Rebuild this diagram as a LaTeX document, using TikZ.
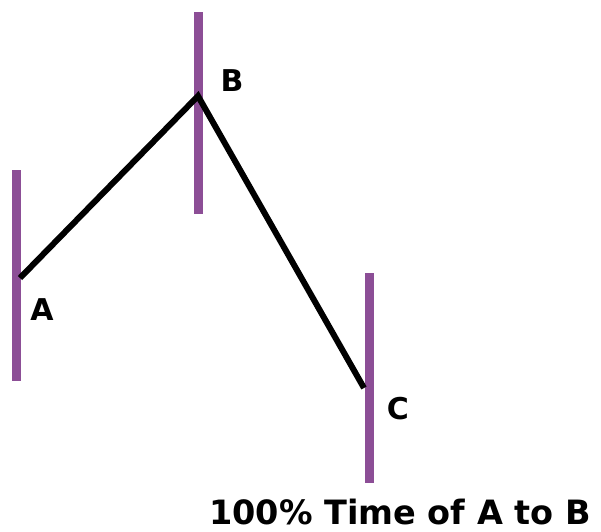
\documentclass[tikz,border=0pt]{standalone}
\usepackage{fontspec}
\setmainfont{DejaVu Sans}
\usetikzlibrary{positioning, calc}
\definecolor{barpurple}{RGB}{140,78,150}

\begin{document}
\begin{tikzpicture}[
    x=1pt, y=-1pt,
    % Define styles for bars, path and labels
    bar/.style={draw=barpurple, line width=9pt},
    swing/.style={draw=black, line width=6pt, line join=miter},
    pt_lbl/.style={font=\fontsize{30}{30}\selectfont\bfseries, inner sep=0pt},
    cap_lbl/.style={font=\fontsize{33.5}{33.5}\selectfont\bfseries, inner sep=0pt, text depth=0pt, anchor=base}
]
    \useasboundingbox (0,0) rectangle (601,531);

    % --- Vertical Bars ---
    \coordinate (aTop) at (16,170);
    \coordinate (aBot) at (16,381);
    \coordinate (bTop) at (198,12);
    \coordinate (bBot) at (198,214);
    \coordinate (cTop) at (369,273);
    \coordinate (cBot) at (369,483);
    \draw[bar] (aTop) -- (aBot);
    \draw[bar] (bTop) -- (bBot);
    \draw[bar] (cTop) -- (cBot);

    % --- Swing Points ---
    \coordinate (a) at (20,278);
    \coordinate (b) at (198,96);
    \coordinate (c) at (364,388);
    \draw[swing] (a) -- (b) -- (c);

    % --- Labels ---
    \node[pt_lbl] (la) at (42,310) {A};
    \node[pt_lbl] (lb) at (232,81) {B};
    \node[pt_lbl] (lc) at (398,409) {C};
    \node[cap_lbl] (cap) at (400,524) {100\% Time of A to B};

\end{tikzpicture}
\end{document}
